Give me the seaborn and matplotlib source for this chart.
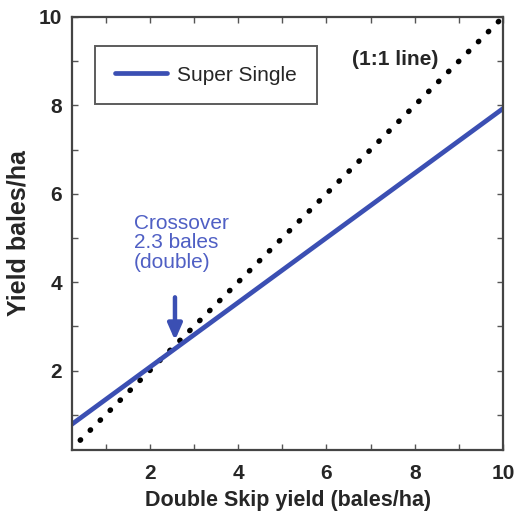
import matplotlib
matplotlib.use("Agg")
import matplotlib.pyplot as plt
import seaborn as sns
import pandas as pd
from matplotlib.ticker import MultipleLocator

sns.set_theme(style="ticks")
plt.rcParams['font.family'] = ['Liberation Sans', 'DejaVu Sans']

# Yield data (bales/ha)
double_skip = [0.2, 10.0]
super_single = [0.76, 7.93]
one_to_one_x = [0.2, 10.0]
one_to_one_y = [0.2, 10.0]
crossover_x = 2.57
crossover_label = "Crossover\n2.3 bales\n(double)"

blue = "#3b4fb3"

df_ss = pd.DataFrame({"x": double_skip, "y": super_single})
df_11 = pd.DataFrame({"x": one_to_one_x, "y": one_to_one_y})

fig = plt.figure(figsize=(5.22, 5.11), dpi=100)
ax = fig.add_axes([0.138, 0.119, 0.826, 0.848])

sns.lineplot(data=df_11, x="x", y="y", ax=ax, color="black",
             linestyle=(0, (0.1, 2.5)), linewidth=3.9,
             dash_capstyle="round", solid_capstyle="round")
sns.lineplot(data=df_ss, x="x", y="y", ax=ax, color=blue, linewidth=3.4,
             label="Super Single")

ax.set_xlim(0.24, 10)
ax.set_ylim(0.2, 10)
ax.xaxis.set_major_locator(MultipleLocator(2))
ax.yaxis.set_major_locator(MultipleLocator(2))
ax.xaxis.set_minor_locator(MultipleLocator(1))
ax.yaxis.set_minor_locator(MultipleLocator(1))
ax.tick_params(which="both", direction="in", top=True, right=True,
               length=4, width=1, color="#555555")
ax.tick_params(which="major", labelsize=15)
ax.tick_params(axis="x", which="major", pad=10)
ax.tick_params(axis="y", which="major", pad=7)
for lbl in ax.get_xticklabels() + ax.get_yticklabels():
    lbl.set_fontweight("bold")
for s in ax.spines.values():
    s.set_linewidth(1.6)
    s.set_color("#444444")

ax.set_xlabel("Double Skip yield (bales/ha)", fontsize=15.5, fontweight="bold",
              labelpad=5)
ax.set_ylabel("Yield bales/ha", fontsize=18, fontweight="bold", labelpad=6)

leg = ax.legend(loc="upper left", bbox_to_anchor=(0.053, 0.933),
                borderaxespad=0, fontsize=15, frameon=True, fancybox=False,
                edgecolor="#333333", handlelength=2.5, borderpad=0.95,
                handletextpad=0.5)
leg.get_frame().set_linewidth(1.4)

ax.text(6.58, 9.03, "(1:1 line)", fontsize=15, fontweight="bold",
        ha="left", va="center")

ax.text(1.64, 5.55, crossover_label, fontsize=15, color="#4f5fc4",
        ha="left", va="top", linespacing=1.05)
ax.annotate("", xy=(crossover_x, 2.62), xytext=(crossover_x, 3.72),
            arrowprops=dict(arrowstyle="-|>,head_length=0.8,head_width=0.35",
                            color=blue, lw=3.2))

fig.savefig("out.png", dpi=100)
